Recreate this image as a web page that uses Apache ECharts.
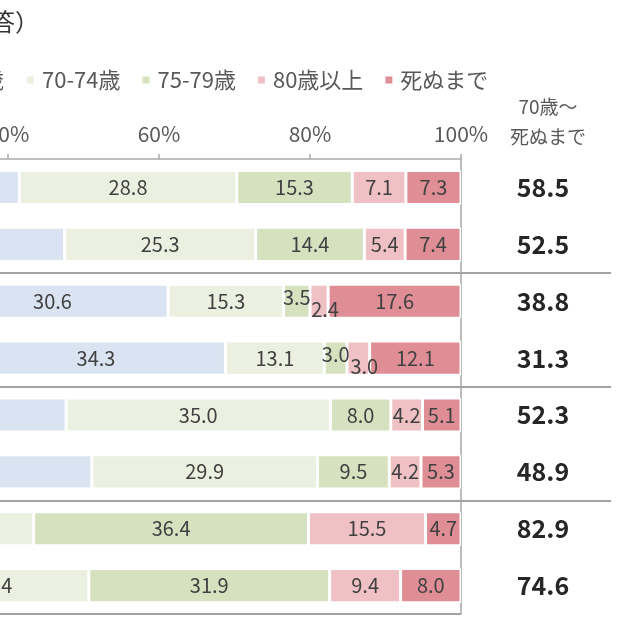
<!DOCTYPE html>
<html>
<head>
<meta charset="utf-8">
<script src="https://cdn.jsdelivr.net/npm/echarts@6/dist/echarts.min.js"></script>
<style>
  html, body { margin: 0; padding: 0; background: #fff; }
  #chart { width: 640px; height: 640px; }
</style>
</head>
<body>
<div id="chart"></div>
<script>
// values per row (top to bottom), percent
const rowTotals = [58.5, 52.5, 38.8, 31.3, 52.3, 48.9, 82.9, 74.6];
const under64 = [16.5, 19.5, 30.6, 34.5, 17.7, 19.1, 5.1, 9.3];
const age6569 = [25.0, 28.0, 30.6, 34.3, 30.0, 32.0, 12.0, 16.0];
const age7074 = [28.8, 25.3, 15.3, 13.1, 35.0, 29.9, 26.3, 25.4];
const age7579 = [15.3, 14.4, 3.5, 3.0, 8.0, 9.5, 36.4, 31.9];
const age80plus = [7.1, 5.4, 2.4, 3.0, 4.2, 4.2, 15.5, 9.4];
const untilDeath = [7.3, 7.4, 17.6, 12.1, 5.1, 5.3, 4.7, 8.0];

const seriesNames = ['64歳以下', '65-69歳', '70-74歳', '75-79歳', '80歳以上', '死ぬまで'];
const seriesColors = ['#b9cbe6', '#dae3f1', '#ebf0e0', '#d6e1c0', '#efc0c4', '#df8e95'];
const xTicks = [0, 20, 40, 60, 80, 100];

const chart = echarts.init(document.getElementById('chart'), null, { renderer: 'canvas' });

const FONT = "'Noto Sans CJK JP', 'Noto Sans', sans-serif";
const sepLine = { color: '#a3a3a3', width: 2 };

function makeSeries(name, values, color, smallOffset) {
  return {
    name: name,
    type: 'bar',
    stack: 'total',
    barCategoryGap: '40%',
    xAxisIndex: 0,
    yAxisIndex: 0,
    itemStyle: { color: color, borderColor: '#fff', borderWidth: 1.5 },
    label: {
      show: true,
      position: 'inside',
      fontSize: 20,
      color: '#404040',
      formatter: (p) => p.value.toFixed(1)
    },
    data: values.map(v => {
      if (smallOffset && v < 4) {
        return { value: v, label: { offset: smallOffset } };
      }
      return v;
    })
  };
}

const legendStyle = {
  icon: 'rect',
  align: 'left',
  itemWidth: 9,
  itemHeight: 9,
  itemGap: 20,
  top: 64,
  textStyle: { fontSize: 22, color: '#595959', padding: [0, 0, 0, 2] }
};

const option = {
  animation: false,
  backgroundColor: '#fff',
  textStyle: { fontFamily: FONT },
  title: [
    {
      text: '何歳まで働きたいか（単一回答）',
      right: 601,
      top: 10,
      padding: 0,
      textStyle: { fontSize: 24, fontWeight: 'normal', color: '#333', fontFamily: FONT }
    },
    {
      text: '70歳〜\n死ぬまで',
      left: 548,
      textAlign: 'center',
      top: 92,
      padding: 0,
      textStyle: { fontSize: 19, fontWeight: 'normal', color: '#595959', lineHeight: 30, fontFamily: FONT }
    }
  ],
  legend: [
    Object.assign({ data: seriesNames.slice(2), left: 20 }, legendStyle),
    Object.assign({ data: seriesNames.slice(0, 2), right: 631, width: 400 }, legendStyle)
  ],
  grid: [
    { left: -294, right: 179, top: 159, bottom: 26, outerBoundsMode: 'none' },
    { left: 461, right: 29, top: 159, bottom: 26, outerBoundsMode: 'none' }
  ],
  xAxis: [
    {
      gridIndex: 0,
      type: 'value',
      position: 'top',
      min: xTicks[0],
      max: xTicks[xTicks.length - 1],
      interval: 20,
      axisLine: { show: true, lineStyle: { color: '#aaa', width: 1.5 } },
      axisTick: { show: true, length: 5, lineStyle: { color: '#aaa', width: 1.5 } },
      axisLabel: { formatter: '{value}%', fontSize: 21, color: '#595959', margin: 14 },
      splitLine: { show: false }
    },
    { gridIndex: 1, type: 'value', show: false, min: 0, max: 1 }
  ],
  yAxis: [
    {
      gridIndex: 0,
      type: 'category',
      inverse: true,
      position: 'right',
      data: rowTotals.map(v => v.toFixed(1)),
      axisLine: { show: true, onZero: false, lineStyle: { color: '#a6a6a6', width: 1.5 } },
      axisTick: { show: false },
      axisLabel: { margin: 82, align: 'center', fontSize: 25, fontWeight: 'bold', color: '#262626' },
      splitLine: {
        show: true,
        interval: (i) => i > 0 && i % 2 === 0,
        lineStyle: sepLine
      }
    },
    {
      gridIndex: 1,
      type: 'value',
      inverse: true,
      min: 0,
      max: rowTotals.length,
      interval: 2,
      axisLine: { show: false },
      axisTick: { show: false },
      axisLabel: { show: false },
      splitLine: { show: true, showMinLine: false, showMaxLine: false, lineStyle: sepLine }
    }
  ],
  series: [
    makeSeries(seriesNames[0], under64, seriesColors[0]),
    makeSeries(seriesNames[1], age6569, seriesColors[1]),
    makeSeries(seriesNames[2], age7074, seriesColors[2]),
    makeSeries(seriesNames[3], age7579, seriesColors[3], [0, -4]),
    makeSeries(seriesNames[4], age80plus, seriesColors[4], [6, 8]),
    makeSeries(seriesNames[5], untilDeath, seriesColors[5])
  ]
};

chart.setOption(option);
</script>
</body>
</html>
